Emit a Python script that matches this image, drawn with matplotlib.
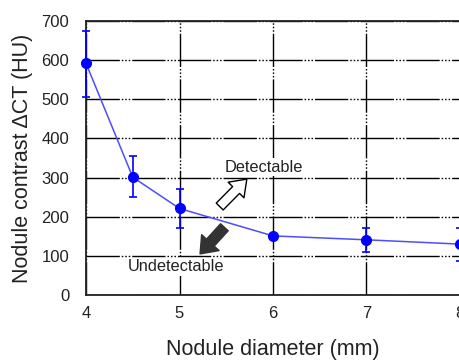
import matplotlib
matplotlib.use("Agg")
import matplotlib.pyplot as plt
import numpy as np

plt.rcParams['font.family'] = ['Liberation Sans', 'DejaVu Sans']

diameter = [4, 4.5, 5, 6, 7, 8]
contrast = [592, 301, 221, 151, 141, 130]
err_upper = [675, 354, 270, 151, 172, 172]
err_lower = [507, 250, 172, 151, 109, 88]

x_ticks = [4, 5, 6, 7, 8]
y_ticks = [0, 100, 200, 300, 400, 500, 600, 700]

fig = plt.figure(figsize=(4.6, 3.6), dpi=100)
ax = fig.add_axes([86/460, 65/360, 374/460, 274/360])

yerr = [np.array(contrast) - np.array(err_lower), np.array(err_upper) - np.array(contrast)]
ax.errorbar(diameter, contrast, yerr=yerr, fmt='none', ecolor='#0000ff', elinewidth=1.2,
            capsize=3, capthick=1.2, zorder=4, clip_on=False)
ax.plot(diameter, contrast, color='#4d4dff', lw=1.1, zorder=5, clip_on=False)
ax.plot(diameter, contrast, 'o', color='#0000ff', ms=7, zorder=6, clip_on=False)

ax.set_xlim(4, 8)
ax.set_ylim(0, 700)
ax.set_xticks(x_ticks)
ax.set_yticks(y_ticks)

dash = (0, (24, 1.4, 1.1, 1.4, 1.1, 1.4, 1.1, 1.4))
ax.grid(True, color='black', lw=1.0, linestyle=dash)
ax.tick_params(length=0, labelsize=12, colors='#222222')
ax.tick_params(axis='y', pad=12)
ax.tick_params(axis='x', pad=8)
for s in ax.spines.values():
    s.set_linewidth(1.3)
    s.set_color('#222222')

ax.set_xlabel('Nodule diameter (mm)', fontsize=15.5, color='#222222', labelpad=13)
ax.set_ylabel('Nodule contrast ΔCT (HU)', fontsize=15.5, color='#222222', labelpad=6)

ax.annotate('', xy=(5.72, 296), xytext=(5.43, 226),
            arrowprops=dict(arrowstyle='simple,head_width=1.6,head_length=1.1,tail_width=0.7',
                            fc='white', ec='black', lw=1.0, shrinkA=0, shrinkB=0))
ax.annotate('', xy=(5.22, 105), xytext=(5.48, 173),
            arrowprops=dict(arrowstyle='simple,head_width=1.7,head_length=1.1,tail_width=0.75',
                            fc='#333333', ec='#333333', lw=1.0, shrinkA=0, shrinkB=0))

ax.text(5.90, 327, 'Detectable', fontsize=11.8, ha='center', va='center', color='#222222',
        bbox=dict(fc='white', ec='none', pad=1))
ax.text(4.965, 72, 'Undetectable', fontsize=11.8, ha='center', va='center', color='#222222',
        bbox=dict(fc='white', ec='none', pad=1))

fig.savefig('out.png', dpi=100)
